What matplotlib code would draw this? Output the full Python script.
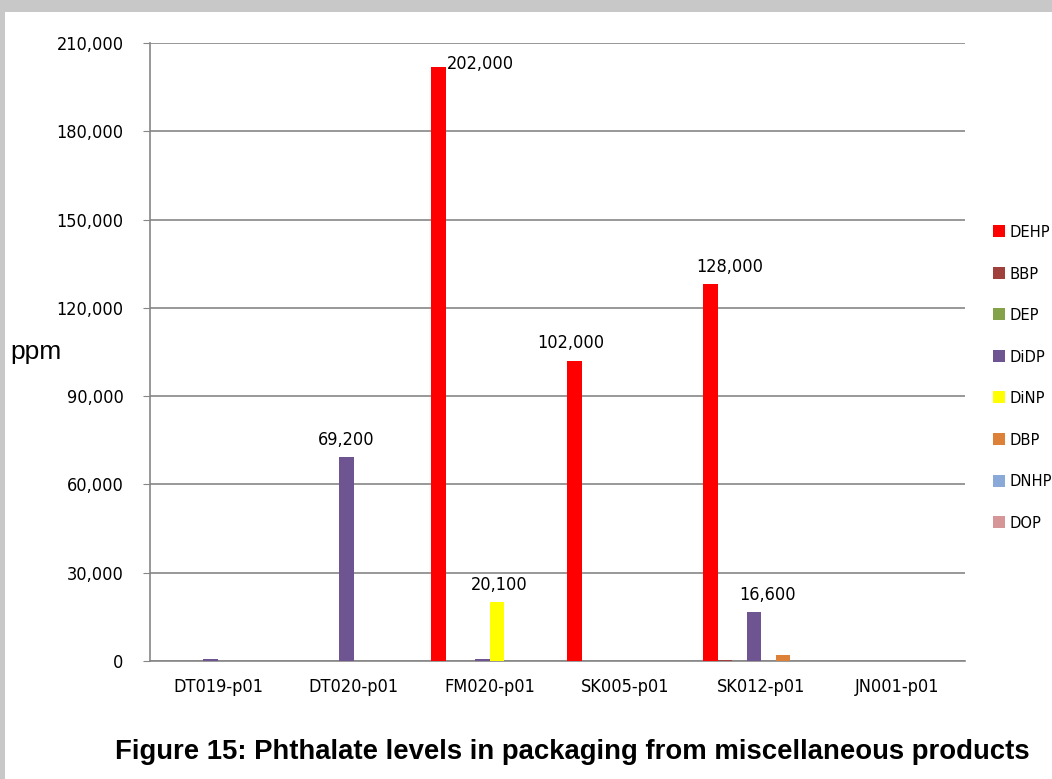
import numpy as np
import matplotlib.pyplot as plt
from matplotlib.patches import Rectangle
from matplotlib import font_manager

# samples on the x axis
samples = ["DT019-p01", "DT020-p01", "FM020-p01", "SK005-p01", "SK012-p01", "JN001-p01"]

# phthalate levels in ppm, one list per compound
dehp = [0, 0, 202000, 102000, 128000, 0]
bbp = [0, 0, 0, 0, 500, 0]
dep = [0, 0, 0, 0, 0, 0]
didp = [700, 69200, 700, 0, 16600, 0]
dinp = [0, 0, 20100, 0, 0, 0]
dbp = [0, 0, 0, 0, 2000, 0]
dnhp = [0, 0, 0, 0, 0, 0]
dop = [0, 0, 0, 0, 0, 0]

series_names = ["DEHP", "BBP", "DEP", "DiDP", "DiNP", "DBP", "DNHP", "DOP"]
series_vals = [dehp, bbp, dep, didp, dinp, dbp, dnhp, dop]
colors = ["#ff0000", "#a0403c", "#84a24a", "#6e5591", "#ffff00",
          "#dd8038", "#8aa9d8", "#d69698"]

yticks = np.arange(0, 210001, 30000)

# narrow font similar to Calibri
cond = font_manager.FontProperties(family="DejaVu Sans", stretch="condensed", size=13)
cond_leg = font_manager.FontProperties(family="DejaVu Sans", stretch="condensed", size=11.8)

fig = plt.figure(figsize=(10.52, 7.79), dpi=100, facecolor="#c8c8c8")
# white page with a grey frame, like the screenshot
fig.patches.append(Rectangle((5 / 1052, 0), 1, 1 - 12 / 779,
                             transform=fig.transFigure, facecolor="white",
                             edgecolor="none", zorder=-5))

ax = fig.add_axes([150 / 1052, 1 - 661 / 779, 815 / 1052, 618 / 779])
ax.set_facecolor("none")

x = np.arange(len(samples))
n = len(series_names)
w = 0.107
for i, (name, vals, c) in enumerate(zip(series_names, series_vals, colors)):
    ax.bar(x + (i - (n - 1) / 2) * w, vals, width=w, color=c, label=name,
           zorder=3)

# value labels on the large bars
labels = [(2, 0, "202,000"), (3, 0, "102,000"), (4, 0, "128,000"),
          (1, 3, "69,200"), (2, 4, "20,100"), (4, 3, "16,600")]
for gi, si, txt in labels:
    xb = x[gi] + (si - (n - 1) / 2) * w
    yb = series_vals[si][gi]
    if txt == "202,000":
        ax.annotate(txt, (xb + w / 2, yb), xytext=(1, 2),
                    textcoords="offset points", ha="left", va="center",
                    fontproperties=cond)
    else:
        dx = {"128,000": 14, "16,600": 10, "102,000": -3, "20,100": 2}.get(txt, 0)
        ax.annotate(txt, (xb, yb), xytext=(dx, 6),
                    textcoords="offset points", ha="center", va="bottom",
                    fontproperties=cond)

ax.set_xlim(-0.5, len(samples) - 0.5)
ax.set_ylim(0, 210000)
ax.set_yticks(yticks)
ax.set_yticklabels([f"{v:,}" for v in yticks], fontproperties=cond)
ax.set_xticks(x)
ax.set_xticklabels(samples, fontproperties=cond)
ax.tick_params(axis="y", length=5, color="#868686", pad=14)
ax.tick_params(axis="x", length=0, pad=12)
ax.yaxis.grid(True, color="#868686", linewidth=1.2, zorder=0)
ax.set_axisbelow(True)
for s in ["top", "right"]:
    ax.spines[s].set_visible(False)
for s in ["left", "bottom"]:
    ax.spines[s].set_color("#868686")
    ax.spines[s].set_linewidth(1.2)

fig.text(10 / 1052, 1 - 352 / 779, "ppm", fontsize=19, va="center",
         ha="left", family="Liberation Sans")

leg = ax.legend(loc="upper left", bbox_to_anchor=(993 / 1052, 1 - 225 / 779),
                bbox_transform=fig.transFigure, frameon=False,
                handlelength=0.75, handleheight=0.75, handletextpad=0.25,
                labelspacing=1.62, borderaxespad=0, borderpad=0,
                prop=cond_leg)

fig.text(572 / 1052, 1 - 752 / 779,
         "Figure 15: Phthalate levels in packaging from miscellaneous products",
         fontsize=19.8, fontweight="bold", ha="center", va="center",
         family="Liberation Sans")

fig.savefig("out.png", dpi=100, facecolor=fig.get_facecolor())
